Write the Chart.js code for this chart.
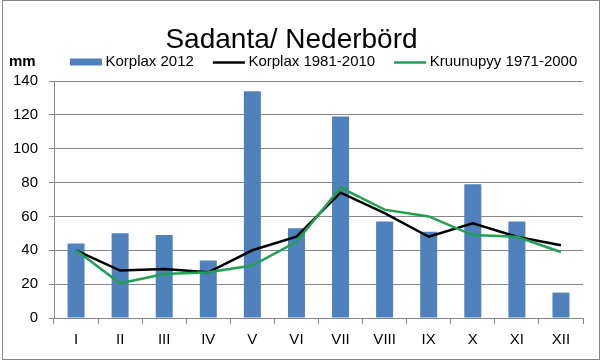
<!DOCTYPE html>
<html>
<head>
<meta charset="utf-8">
<script src="https://cdn.jsdelivr.net/npm/chart.js@4"></script>
<style>
  html, body { margin: 0; padding: 0; background: #fff; }
  #wrap { width: 601px; height: 361px; position: relative; }
</style>
</head>
<body>
<div id="wrap"><canvas id="js-chart-sadanta"></canvas></div>
<script>
// Chart data
const months = ["I", "II", "III", "IV", "V", "VI", "VII", "VIII", "IX", "X", "XI", "XII"];
const korplax2012 = [44, 50, 49, 34, 134, 53, 119, 57, 51, 79, 57, 15];
const korplax19812010 = [40, 28, 29, 27, 40, 48, 74, 62, 48, 56, 48, 43];
const kruunupyy19712000 = [40, 20.5, 26, 27, 31, 45, 77, 64, 60, 49, 48, 39];
const yTicks = [0, 20, 40, 60, 80, 100, 120, 140];

const FONT = "'Liberation Sans', Arial, sans-serif";
const GRAY = "#868686";

// Legend row + "mm" label + outer frame, drawn like the Excel chart
const excelDecor = {
  id: "excelDecor",
  afterDraw(chart) {
    const ctx = chart.ctx;
    ctx.save();
    const y = 62;
    ctx.textBaseline = "middle";
    ctx.textAlign = "left";
    ctx.fillStyle = "#000";
    ctx.font = "bold 15px " + FONT;
    ctx.fillText("mm", 9, y);

    ctx.font = "15px " + FONT;
    let x = 70;
    chart.data.datasets.forEach((ds) => {
      if (ds.type === "line") {
        ctx.strokeStyle = ds.borderColor;
        ctx.lineWidth = 2.5;
        ctx.beginPath();
        ctx.moveTo(x, y + 0.5);
        ctx.lineTo(x + 32, y + 0.5);
        ctx.stroke();
      } else {
        ctx.fillStyle = ds.backgroundColor;
        ctx.fillRect(x, y - 3.5, 32, 7);
      }
      ctx.fillStyle = "#000";
      const tx = x + 35.5;
      ctx.fillText(ds.label, tx, y);
      x = tx + ctx.measureText(ds.label).width + 19;
    });

    ctx.strokeStyle = GRAY;
    ctx.lineWidth = 1;
    ctx.strokeRect(2.5, 0.5, 597, 359);
    ctx.restore();
  },
};

const chartCon = document.getElementById("js-chart-sadanta");
new Chart(chartCon, {
  data: {
    labels: months,
    datasets: [
      {
        type: "bar",
        label: "Korplax 2012",
        backgroundColor: "#4f81bd",
        borderWidth: 0,
        barPercentage: 0.386,
        categoryPercentage: 1,
        data: korplax2012,
        order: 3,
      },
      {
        type: "line",
        label: "Korplax 1981-2010",
        borderColor: "#000000",
        backgroundColor: "#000000",
        borderWidth: 2.5,
        pointRadius: 0,
        tension: 0,
        data: korplax19812010,
        order: 2,
      },
      {
        type: "line",
        label: "Kruunupyy 1971-2000",
        borderColor: "#1fa053",
        backgroundColor: "#1fa053",
        borderWidth: 2.5,
        pointRadius: 0,
        tension: 0,
        data: kruunupyy19712000,
        order: 1,
      },
    ],
  },
  options: {
    responsive: true,
    maintainAspectRatio: false,
    animation: false,
    layout: {
      padding: { left: 0, right: 18, top: 0, bottom: 0 },
    },
    scales: {
      x: {
        offset: true,
        grid: {
          offset: true,
          drawOnChartArea: false,
          drawTicks: true,
          tickLength: 6,
          color: GRAY,
        },
        border: { display: true, color: GRAY },
        ticks: {
          color: "#000",
          padding: 7,
          font: { family: FONT, size: 15 },
        },
        afterFit(scale) {
          scale.height = 43;
        },
      },
      y: {
        min: 0,
        max: 140,
        afterBuildTicks(scale) {
          scale.ticks = yTicks.map((v) => ({ value: v }));
        },
        grid: {
          color: GRAY,
          drawTicks: true,
          tickLength: 5,
        },
        border: { display: true, color: GRAY },
        ticks: {
          color: "#000",
          padding: 11,
          font: { family: FONT, size: 15 },
        },
        afterFit(scale) {
          scale.width = 54;
        },
      },
    },
    plugins: {
      legend: { display: false },
      tooltip: { enabled: false },
      title: {
        display: true,
        text: "Sadanta/ Nederbörd",
        color: "#000",
        font: { family: FONT, size: 28, weight: "normal", lineHeight: 1 },
        padding: { top: 26, bottom: 27 },
      },
    },
  },
  plugins: [excelDecor],
});
</script>
</body>
</html>
